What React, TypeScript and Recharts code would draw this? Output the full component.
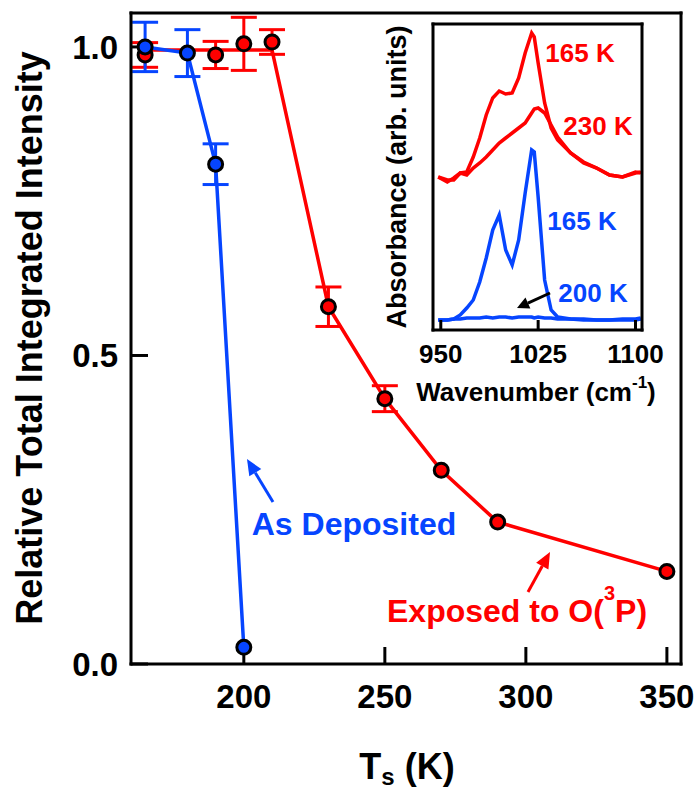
import {
  ComposedChart,
  LineChart,
  Line,
  Scatter,
  ErrorBar,
  XAxis,
  YAxis,
} from "recharts";

const FONT = '"Liberation Sans", Arial, Helvetica, sans-serif';
const RED = "#ff0000";
const BLUE = "#0645ff";

// main panel: as deposited film
const depT = [165, 180, 190, 200];
const depVal = [1.0, 0.99, 0.81, 0.027];
const depErr = [0.04, 0.038, 0.033, null];

// main panel: exposed to O(3P)
const expT = [165, 190, 200, 210, 230, 250, 270, 290, 350];
const expVal = [0.987, 0.987, 1.005, 1.008, 0.579, 0.43, 0.314, 0.23, 0.15];
const expErr = [0.02, 0.022, 0.043, 0.02, 0.032, 0.021, null, null, null];

// red guide line (flat at low T, then through the points)
const expLineT = [165, 210, 230, 250, 270, 290, 350];
const expLineVal = [0.995, 0.995, 0.579, 0.43, 0.314, 0.23, 0.15];

const tTicks = [200, 250, 300, 350];
const yTicks = [0, 0.5, 1.0];

// inset spectra (arb. units)
const wavenumber = [
  948, 955, 960, 965, 970, 975, 980, 985, 990, 995, 1000, 1005, 1010, 1015,
  1020, 1022, 1025, 1030, 1035, 1040, 1050, 1060, 1070, 1080, 1090, 1100, 1104,
];
const exp165 = [
  153, 148, 152, 157, 158, 173, 192, 215, 232, 239, 236, 237, 252, 277, 297,
  293, 267, 227, 202, 190, 177, 168, 162, 155, 153, 158, 157,
];
const exp230 = [
  153, 150, 150, 157, 155, 162, 167, 173, 180, 187, 192, 197, 202, 207, 217,
  221, 222, 217, 205, 193, 177, 167, 162, 155, 153, 157, 158,
];
const dep165 = [
  10, 10, 11, 15, 22, 30, 48, 72, 100, 115, 80, 65, 90, 137, 180, 178, 133,
  50, 20, 13, 11, 10, 10, 10, 10, 10, 11,
];
const dep200 = [
  10, 10, 11, 11, 12, 12, 12, 13, 12, 13, 13, 12, 13, 13, 13, 12, 13, 12, 12,
  11, 11, 11, 10, 10, 11, 11, 12,
];
const wnTicks = [950, 1025, 1100];

const depData = depT.map((t, i) => ({ t, v: depVal[i], e: depErr[i] }));
const expData = expT.map((t, i) => ({ t, v: expVal[i], e: expErr[i] }));
const expLine = expLineT.map((t, i) => ({ t, v: expLineVal[i] }));
const insetData = wavenumber.map((w, i) => ({
  w,
  r165: exp165[i],
  r230: exp230[i],
  b165: dep165[i],
  b200: dep200[i],
}));

const dot = (fill: string) => (p: any) => (
  <circle cx={p.cx} cy={p.cy} r={7} fill={fill} stroke="#000" strokeWidth={3} />
);

function Arrow({ x1, y1, x2, y2, color, head = 16, half = 7 }: any) {
  const dx = x2 - x1;
  const dy = y2 - y1;
  const len = Math.hypot(dx, dy);
  const ux = dx / len;
  const uy = dy / len;
  const bx = x2 - ux * head;
  const by = y2 - uy * head;
  const px = -uy;
  const py = ux;
  return (
    <g>
      <line x1={x1} y1={y1} x2={bx} y2={by} stroke={color} strokeWidth={3} />
      <polygon
        points={`${x2},${y2} ${bx + px * half},${by + py * half} ${bx - px * half},${by - py * half}`}
        fill={color}
      />
    </g>
  );
}

const axisLine = { stroke: "#000", strokeWidth: 3, strokeLinecap: "square" as const };
const tickLine = { stroke: "#000", strokeWidth: 3 };
const bigTick = { fontSize: 33, fontWeight: "bold", fill: "#000", fontFamily: FONT };
const smallTick = { fontSize: 26, fontWeight: "bold", fill: "#000", fontFamily: FONT };

export default function App() {
  return (
    <div style={{ position: "absolute", left: 0, top: 0, width: 700, height: 789, background: "#fff" }}>
      <div style={{ position: "absolute", left: 0, top: 0 }}>
        <ComposedChart
          width={700}
          height={789}
          margin={{ top: 12, right: 18, bottom: 85, left: 71 }}
        >
          <XAxis
            type="number"
            dataKey="t"
            domain={[160, 355]}
            allowDataOverflow
            ticks={tTicks}
            height={40}
            tickSize={-17}
            tickMargin={38}
            axisLine={axisLine}
            tickLine={tickLine}
            tick={bigTick}
          />
          <XAxis
            xAxisId="top"
            orientation="top"
            type="number"
            domain={[160, 355]}
            allowDataOverflow
            height={1}
            tick={false}
            tickLine={false}
            axisLine={axisLine}
          />
          <YAxis
            type="number"
            dataKey="v"
            domain={[0, 1.055]}
            allowDataOverflow
            ticks={yTicks}
            width={60}
            tickSize={-17}
            tickMargin={30}
            tickFormatter={(v: number) => v.toFixed(1)}
            axisLine={axisLine}
            tickLine={tickLine}
            tick={bigTick}
          />
          <YAxis
            yAxisId="right"
            orientation="right"
            type="number"
            domain={[0, 1.055]}
            allowDataOverflow
            width={1}
            tick={false}
            tickLine={false}
            axisLine={axisLine}
          />
          <Line
            data={expLine}
            dataKey="v"
            stroke={RED}
            strokeWidth={3.5}
            dot={false}
            isAnimationActive={false}
          />
          <Line
            data={depData}
            dataKey="v"
            stroke={BLUE}
            strokeWidth={3.5}
            dot={false}
            isAnimationActive={false}
          />
          <Scatter data={expData} shape={dot(RED)} isAnimationActive={false}>
            <ErrorBar dataKey="e" direction="y" width={13} stroke={RED} strokeWidth={3} />
          </Scatter>
          <Scatter data={depData} shape={dot(BLUE)} isAnimationActive={false}>
            <ErrorBar dataKey="e" direction="y" width={13} stroke={BLUE} strokeWidth={3} />
          </Scatter>
        </ComposedChart>
      </div>

      <div style={{ position: "absolute", left: 380, top: 0 }}>
        <LineChart
          width={300}
          height={410}
          data={insetData}
          margin={{ top: 23, right: 37, bottom: 50, left: 52 }}
        >
          <XAxis
            type="number"
            dataKey="w"
            domain={[944, 1105]}
            allowDataOverflow
            ticks={wnTicks}
            height={30}
            tickSize={-10}
            tickMargin={25}
            axisLine={axisLine}
            tickLine={tickLine}
            tick={smallTick}
          />
          <XAxis
            xAxisId="top"
            orientation="top"
            type="number"
            dataKey="w"
            domain={[944, 1105]}
            allowDataOverflow
            ticks={wnTicks}
            height={1}
            tickSize={-10}
            tick={false}
            axisLine={axisLine}
            tickLine={tickLine}
          />
          <YAxis
            type="number"
            domain={[0, 306]}
            allowDataOverflow
            width={1}
            tick={false}
            tickLine={false}
            axisLine={axisLine}
          />
          <YAxis
            yAxisId="right"
            orientation="right"
            type="number"
            domain={[0, 306]}
            allowDataOverflow
            width={1}
            tick={false}
            tickLine={false}
            axisLine={axisLine}
          />
          <Line dataKey="r230" stroke={RED} strokeWidth={3.5} dot={false} isAnimationActive={false} />
          <Line dataKey="r165" stroke={RED} strokeWidth={3.5} dot={false} isAnimationActive={false} />
          <Line dataKey="b200" stroke={BLUE} strokeWidth={3.5} dot={false} isAnimationActive={false} />
          <Line dataKey="b165" stroke={BLUE} strokeWidth={3.5} dot={false} isAnimationActive={false} />
        </LineChart>
      </div>

      <svg
        width={700}
        height={789}
        style={{ position: "absolute", left: 0, top: 0, pointerEvents: "none" }}
        fontFamily={FONT}
        fontWeight="bold"
      >
        <text x={42} y={338} transform="rotate(-90 42 338)" textAnchor="middle" fontSize={36}>
          Relative Total Integrated Intensity
        </text>
        <text x={407} y={779} textAnchor="middle" fontSize={36}>
          T<tspan fontSize={24} dy={6}>s</tspan>
          <tspan dy={-6}> (K)</tspan>
        </text>

        <text x={354} y={535} textAnchor="middle" fontSize={32} fill={BLUE}>
          As Deposited
        </text>
        <Arrow x1={273} y1={502} x2={247} y2={459} color={BLUE} />

        <text x={387} y={622} fontSize={32} fill={RED}>
          Exposed to O(<tspan fontSize={20} dy={-22}>3</tspan>
          <tspan dy={22}>P)</tspan>
        </text>
        <Arrow x1={528} y1={592} x2={550} y2={552} color={RED} />

        <text x={580} y={62} textAnchor="middle" fontSize={26} fill={RED}>165 K</text>
        <text x={598} y={135} textAnchor="middle" fontSize={26} fill={RED}>230 K</text>
        <text x={582} y={230} textAnchor="middle" fontSize={26} fill={BLUE}>165 K</text>
        <text x={593} y={302} textAnchor="middle" fontSize={26} fill={BLUE}>200 K</text>
        <Arrow x1={550} y1={293} x2={517} y2={308} color="#000" head={12} half={6} />

        <text x={406} y={177} transform="rotate(-90 406 177)" textAnchor="middle" fontSize={27}>
          Absorbance (arb. units)
        </text>
        <text x={536} y={401} textAnchor="middle" fontSize={26}>
          Wavenumber (cm<tspan fontSize={17} dy={-13}>-1</tspan>
          <tspan dy={13}>)</tspan>
        </text>
      </svg>
    </div>
  );
}
